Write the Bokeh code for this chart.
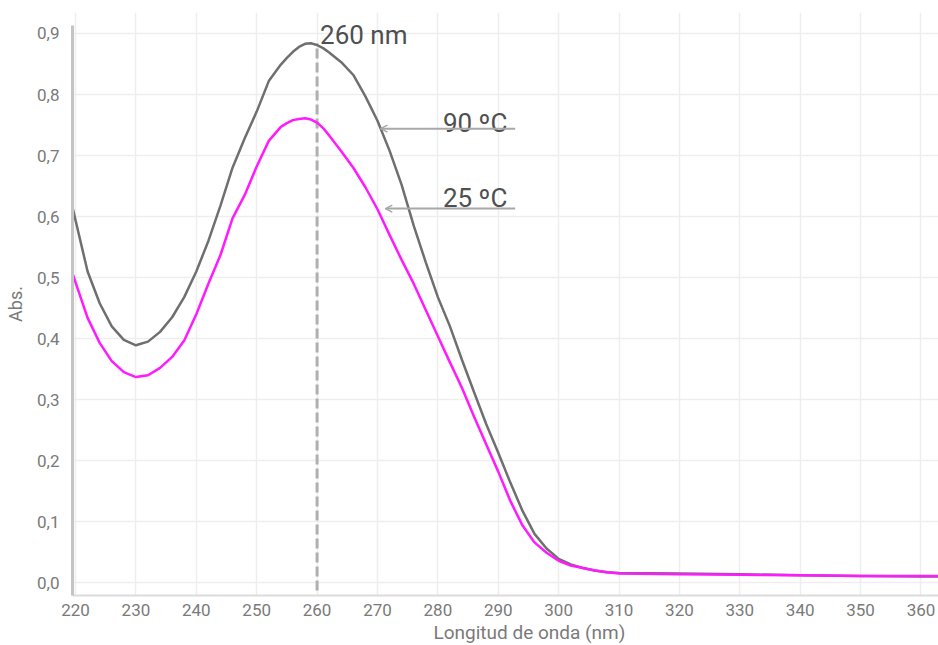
from bokeh.plotting import figure
from bokeh.models import Range1d, FixedTicker, CustomJSTickFormatter, Label, Arrow, OpenHead, Title
from bokeh.embed import file_html
from bokeh.resources import INLINE

# ---- data ----
wavelength = [219.5, 222, 224, 226, 228, 230, 232, 234, 236, 238, 240, 242, 244, 246, 248,
              250, 252, 254, 255, 256, 257, 258, 259, 260, 261, 262, 264, 266, 268, 270,
              272, 274, 276, 278, 280, 282, 284, 286, 288, 290, 292, 294, 296, 298, 300,
              302, 304, 306, 308, 310, 320, 330, 340, 350, 360, 363]
abs_90 = [0.615, 0.510, 0.458, 0.420, 0.398, 0.389, 0.395, 0.411, 0.435, 0.468, 0.510,
          0.560, 0.618, 0.680, 0.728, 0.772, 0.822, 0.849, 0.860, 0.870, 0.878, 0.883,
          0.884, 0.881, 0.876, 0.869, 0.853, 0.832, 0.797, 0.757, 0.708, 0.652, 0.585,
          0.525, 0.468, 0.420, 0.365, 0.312, 0.260, 0.213, 0.164, 0.118, 0.080, 0.056,
          0.039, 0.030, 0.024, 0.020, 0.017, 0.016, 0.015, 0.014, 0.012, 0.011, 0.010,
          0.010]
abs_25 = [0.507, 0.434, 0.393, 0.363, 0.345, 0.337, 0.340, 0.352, 0.370, 0.397, 0.440,
          0.490, 0.537, 0.597, 0.635, 0.682, 0.724, 0.747, 0.753, 0.758, 0.760, 0.761,
          0.759, 0.754, 0.745, 0.733, 0.707, 0.680, 0.648, 0.612, 0.570, 0.529, 0.490,
          0.447, 0.404, 0.361, 0.319, 0.272, 0.227, 0.182, 0.134, 0.094, 0.066, 0.049,
          0.036, 0.028, 0.024, 0.020, 0.017, 0.015, 0.014, 0.013, 0.012, 0.011, 0.011,
          0.011]
x_ticks = [220, 230, 240, 250, 260, 270, 280, 290, 300, 310, 320, 330, 340, 350, 360]
y_ticks = [0.0, 0.1, 0.2, 0.3, 0.4, 0.5, 0.6, 0.7, 0.8, 0.9]
peak_nm = 260
peak_label = "260 nm"
label_90 = "90 ºC"
label_25 = "25 ºC"
x_title = "Longitud de onda (nm)"
y_title = "Abs."

FONT = "Roboto"
TICK_COLOR = "#7a7a7a"
TEXT_COLOR = "#4f4f4f"
ARROW_COLOR = "#a8a8a8"

Y_START, Y_END = -0.021, 0.9344
p = figure(width=938, height=645, output_backend="svg", toolbar_location=None,
           x_range=Range1d(219.5, 362.9), y_range=Range1d(Y_START, Y_END),
           min_border_left=72, min_border_right=0, min_border_top=12, min_border_bottom=50)
p.outline_line_color = None
p.background_fill_color = "white"
p.border_fill_color = "white"

# grid
p.xgrid.ticker = FixedTicker(ticks=x_ticks)
p.ygrid.ticker = FixedTicker(ticks=y_ticks)
p.grid.grid_line_color = "#eeeeee"
p.grid.grid_line_width = 1.5

# axes
p.xaxis.ticker = FixedTicker(ticks=x_ticks)
p.yaxis.ticker = FixedTicker(ticks=y_ticks)
p.yaxis.formatter = CustomJSTickFormatter(code="return tick.toFixed(1).replace('.', ',');")
for ax in (p.xaxis, p.yaxis):
    ax.major_tick_line_color = None
    ax.minor_tick_line_color = None
    ax.major_label_text_font = FONT
    ax.major_label_text_font_size = "17px"
    ax.major_label_text_color = TICK_COLOR
    ax.axis_label_text_font = FONT
    ax.axis_label_text_font_size = "18px"
    ax.axis_label_text_font_style = "normal"
    ax.axis_label_text_color = TICK_COLOR
p.yaxis.axis_label = y_title
p.yaxis.bounds = (Y_START, 0.913)
p.xaxis.axis_line_color = "#dcdcdc"
p.xaxis.axis_line_width = 2
p.yaxis.axis_line_color = "#c4c4c4"
p.yaxis.axis_line_width = 3
p.xaxis.major_label_standoff = 2
p.yaxis.major_label_standoff = 7
p.yaxis.axis_label_standoff = 8

# x-axis title, below the tick labels and offset as in the reference
p.add_layout(Title(text=x_title, align="left", offset=361, standoff=0,
                   text_font=FONT, text_font_size="19px", text_font_style="normal",
                   text_color=TICK_COLOR), "below")

# dashed marker at the peak
p.line([peak_nm, peak_nm], [-0.013, max(abs_90)], line_color="#b0b0b0",
       line_width=3, line_dash="10 4")

# curves
p.line(wavelength, abs_90, line_color="#6f6f6f", line_width=2.5)
p.line(wavelength, abs_25, line_color="#ff1aff", line_width=2.5)

# annotations
p.add_layout(Label(x=peak_nm, y=0.897, x_offset=3, text=peak_label, text_font=FONT,
                   text_baseline="alphabetic", text_font_size="26px", text_color=TEXT_COLOR))
p.add_layout(Label(x=291.5, y=0.754, text=label_90, text_align="right",
                   text_baseline="alphabetic", text_font=FONT,
                   text_font_size="26px", text_color=TEXT_COLOR))
p.add_layout(Label(x=291.5, y=0.631, text=label_25, text_align="right",
                   text_baseline="alphabetic", text_font=FONT,
                   text_font_size="26px", text_color=TEXT_COLOR))
p.add_layout(Arrow(x_start=292.8, y_start=0.744, x_end=270.5, y_end=0.744,
                   line_color=ARROW_COLOR, line_width=2,
                   end=OpenHead(size=7, line_color=ARROW_COLOR, line_width=1.5)))
p.add_layout(Arrow(x_start=292.8, y_start=0.613, x_end=271.3, y_end=0.613,
                   line_color=ARROW_COLOR, line_width=2,
                   end=OpenHead(size=7, line_color=ARROW_COLOR, line_width=1.5)))

open("out.html", "w").write(file_html(p, INLINE))
